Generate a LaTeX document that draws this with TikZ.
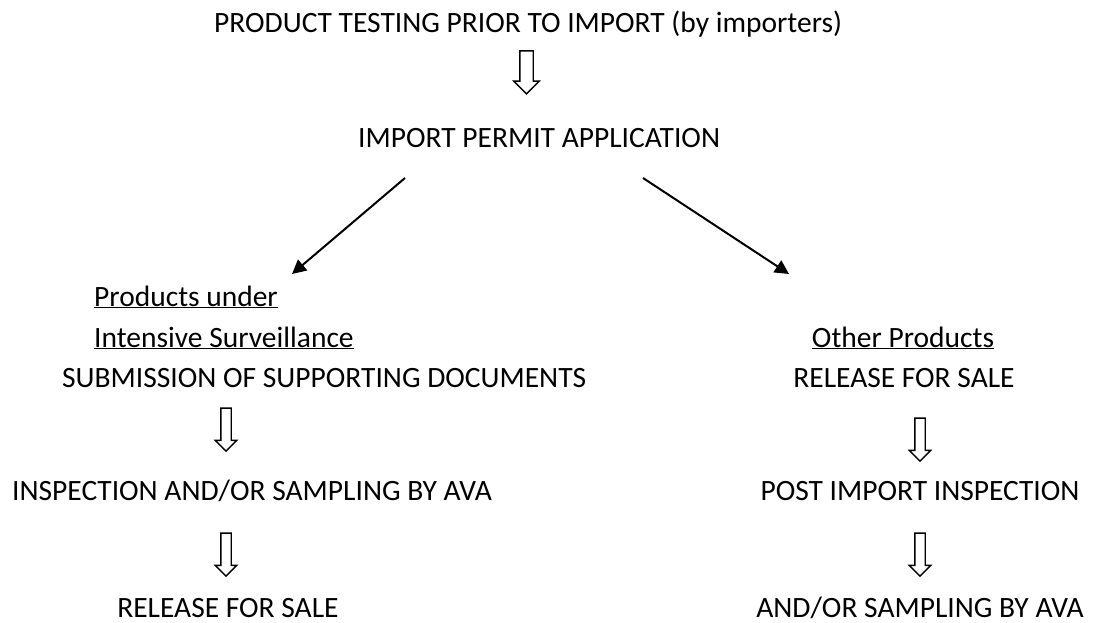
\documentclass[tikz,border=0pt]{standalone}
\usepackage{fontspec}
\setmainfont{Carlito}
\usetikzlibrary{positioning}
\usetikzlibrary{arrows.meta,shapes.arrows}

\begin{document}
\begin{tikzpicture}[x=1pt,y=-1pt,
  lbl/.style={inner sep=0pt,anchor=base west,font=\fontsize{29.5}{34}\selectfont},
  blockarr/.style={single arrow,draw,line width=1.4pt,rotate=-90,inner sep=6pt,
    single arrow head extend=6pt,minimum height=43pt},
  smallarr/.style={blockarr,inner sep=4.5pt,single arrow head extend=5.5pt},
  >={Triangle[length=14pt,width=14pt]}]
\useasboundingbox (0,0) rectangle (1099,623);
\node[lbl] (test)    at (214,33)  {PRODUCT TESTING PRIOR TO IMPORT (by importers)};
\node[blockarr] (a_0) at (526.5,69) {};
\node[lbl] (permit)  at (358,147) {IMPORT PERMIT APPLICATION};
% left branch
\node[lbl] (under)   at (94,306) {\underline{Products under}};
\node[lbl] (intens)  at (94,347) {\underline{Intensive Surveillance}};
\node[lbl] (submit)  at (62,387) {SUBMISSION OF SUPPORTING DOCUMENTS};
\node[smallarr] (a_1) at (226,427) {};
\node[lbl] (inspect) at (12,500) {INSPECTION AND/OR SAMPLING BY AVA};
\node[smallarr] (a_2) at (226,552) {};
\node[lbl,anchor=base] (rel_l) at (228,617) {RELEASE FOR SALE};
% right branch
\node[lbl,anchor=base] (other)  at (903,347) {\underline{Other Products}};
\node[lbl,anchor=base] (rel_r)  at (904,387) {RELEASE FOR SALE};
\node[smallarr] (a_3) at (920,437) {};
\node[lbl,anchor=base] (post)   at (920,500) {POST IMPORT INSPECTION};
\node[smallarr] (a_4) at (920,552) {};
\node[lbl,anchor=base] (sample) at (920,617) {AND/OR SAMPLING BY AVA};
\coordinate (l_tip) at (292,274);
\coordinate (r_tip) at (789,274);
\draw[->,line width=2pt] (405,178) -- (l_tip);
\draw[->,line width=2pt] (643,178) -- (r_tip);
\end{tikzpicture}
\end{document}
